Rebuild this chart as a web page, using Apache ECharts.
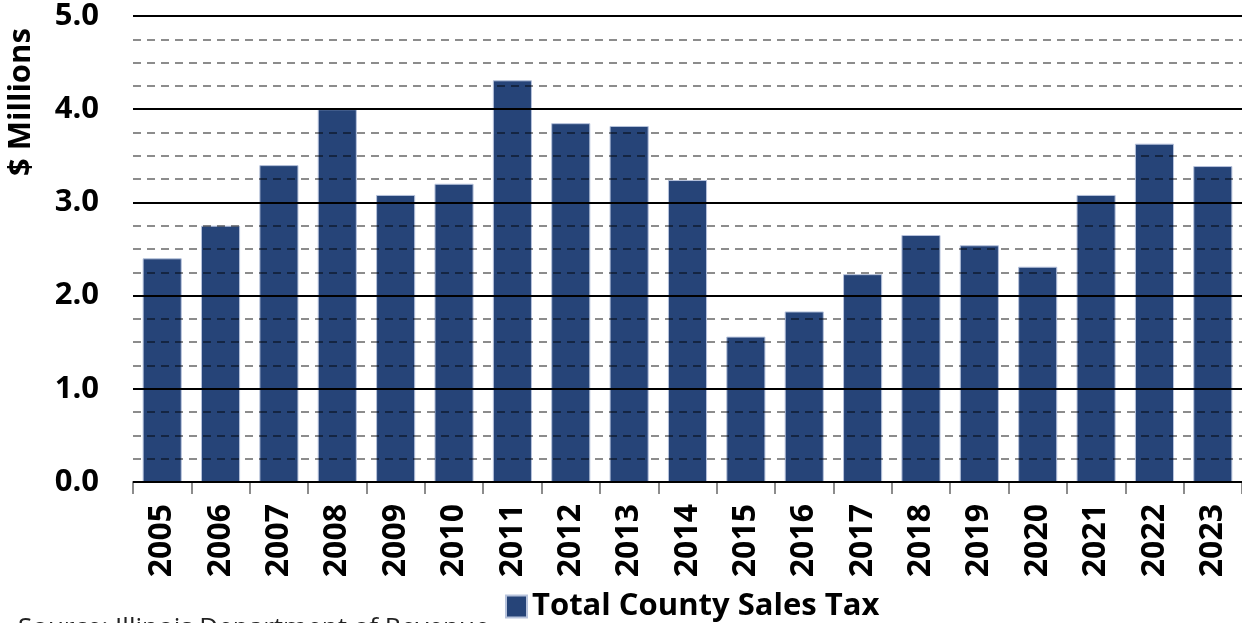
<!DOCTYPE html>
<html><head><meta charset="utf-8">
<script src="https://cdn.jsdelivr.net/npm/echarts@6/dist/echarts.min.js"></script>
<style>html,body{margin:0;padding:0;background:#fff}#c{width:1242px;height:623px}</style>
</head><body><div id="c"></div>
<script>
const years = ['2005','2006','2007','2008','2009','2010','2011','2012','2013','2014','2015','2016','2017','2018','2019','2020','2021','2022','2023'];
const salesTax = [2.40,2.75,3.40,4.00,3.08,3.20,4.31,3.85,3.82,3.24,1.56,1.83,2.23,2.65,2.54,2.31,3.08,3.63,3.39];
const seriesName = 'Total County Sales Tax';
const yTitle = '$ Millions';
const sourceText = 'Source: Illinois Department of Revenue';
const FONT = '"Open Sans", Lato, sans-serif';

const chart = echarts.init(document.getElementById('c'));
chart.setOption({
  animation: false,
  grid: {left: 133, right: -2, top: 16, bottom: 141, containLabel: false},
  legend: {
    data: [seriesName], left: 500, top: 586, itemWidth: 21, itemHeight: 22, itemGap: 8,
    icon: 'rect',
    textStyle: {fontFamily: FONT, fontWeight: 'bold', fontSize: 31, color: '#000'}
  },
  graphic: [
    {type: 'text', x: 6, y: 176, rotation: Math.PI/2,
     style: {text: yTitle, font: 'bold 31px ' + FONT, fill: '#000'}},
    {type: 'text', left: 18, top: 616, style: {text: sourceText, font: '26px ' + FONT, fill: '#222'}}
  ],
  xAxis: {
    type: 'category', data: years,
    axisLine: {lineStyle: {color: '#8c8c8c', width: 2}},
    axisTick: {show: true, length: 12, lineStyle: {color: '#8c8c8c', width: 2}},
    axisLabel: {rotate: 90, margin: 22, fontFamily: FONT, fontWeight: 'bold', fontSize: 32, color: '#000'}
  },
  yAxis: {
    type: 'value', min: 0, max: 5, interval: 1, z: 5,
    axisLine: {show: false}, axisTick: {show: false},
    axisLabel: {formatter: v => v.toFixed(1), margin: 34, fontFamily: FONT, fontWeight: 'bold', fontSize: 31, color: '#000'},
    splitLine: {show: true, lineStyle: {color: '#000', width: 2}},
    minorTick: {show: false, splitNumber: 4},
    minorSplitLine: {show: true, lineStyle: {color: 'rgba(0,0,0,0.45)', width: 2, type: [8, 6]}}
  },
  series: [{
    name: seriesName, type: 'bar', data: salesTax, barCategoryGap: '33%',
    itemStyle: {color: '#264478', borderColor: '#b7c3dc', borderWidth: 1}
  }]
});
</script></body></html>
